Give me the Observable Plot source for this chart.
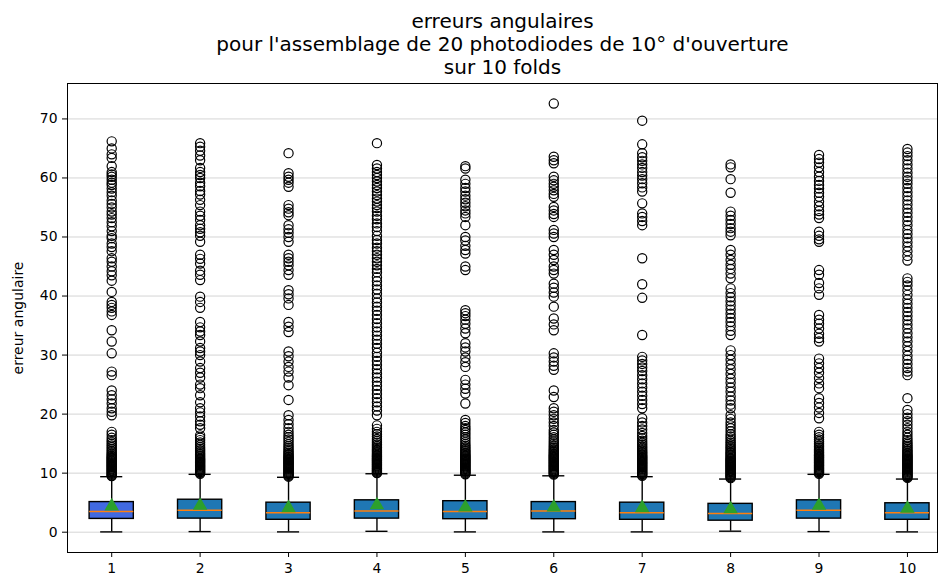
<!DOCTYPE html>
<html>
<head>
<meta charset="utf-8">
<script src="https://cdn.jsdelivr.net/npm/d3@7"></script>
<script src="https://cdn.jsdelivr.net/npm/@observablehq/plot@0.6"></script>
<style>
  html, body { margin: 0; padding: 0; background: #fff; }
  #chart svg { display: block; }
</style>
</head>
<body>
<div id="chart"></div>
<script>
// ---- data ----
const titleLines = ["erreurs angulaires", "pour l'assemblage de 20 photodiodes de 10° d'ouverture", "sur 10 folds"];
const yLabel = "erreur angulaire";
const folds = [1, 2, 3, 4, 5, 6, 7, 8, 9, 10];
const whiskerLow = [0.05, 0.1, 0.05, 0.15, 0.05, 0.05, 0.05, 0.17, 0.1, 0.05];
const q1 = [2.25, 2.3, 2.1, 2.3, 2.2, 2.2, 2.1, 1.95, 2.3, 2.1];
const medians = [3.5, 3.7, 3.3, 3.6, 3.5, 3.6, 3.3, 3.15, 3.7, 3.3];
const q3 = [5.1, 5.5, 5.0, 5.4, 5.25, 5.1, 5.0, 4.8, 5.4, 4.9];
const whiskerHigh = [9.4, 9.8, 9.3, 9.9, 9.65, 9.55, 9.4, 9.0, 9.8, 9.0];
const means = [4.4, 4.5, 4.1, 4.6, 4.2, 4.2, 4.1, 3.9, 4.5, 4.0];
const boxColors = ["#4169e1", "#1f77b4", "#1f77b4", "#1f77b4", "#1f77b4", "#1f77b4", "#1f77b4", "#1f77b4", "#1f77b4", "#1f77b4"];
const outliers1 = [66.2, 65, 64, 63.4, 62, 61, 60.6, 60.2, 59.7, 59.2, 58.8, 58.2, 57.6, 57, 56.2, 55.6, 55, 54.3, 53.8, 53.2, 52.5, 51.8, 51, 50.2, 49.8, 48.9, 48.3, 47.6, 46.4, 45.8, 45, 44.2, 43.5, 42.6, 40.7, 39, 38.5, 38, 37.4, 36.8, 34.2, 32.3, 30.3, 27.2, 26.6, 24, 23.2, 22.5, 21.8, 21, 20.4, 19.8, 17, 16.5, 16, 15.6, 15.3, 15, 14.7, 14.4, 14.1, 13.8, 13.55, 13.3, 13.1, 12.9, 12.75, 12.6, 12.45, 12.3, 12.15, 12, 11.85, 11.7, 11.55, 11.4, 11.25, 11.1, 10.95, 10.8, 10.65, 10.5, 10.35, 10.2, 10.05, 9.9, 9.75, 9.6, 9.5];
const outliers2 = [65.9, 65.3, 64.6, 63.8, 63, 61.7, 61, 60.5, 60, 59.2, 58.6, 57.8, 57.2, 56.3, 55.4, 54.3, 53.6, 52.9, 52, 51.4, 50.8, 50.2, 49.2, 47, 46.3, 45.5, 44.3, 43.6, 42.7, 39.9, 39, 38, 35.6, 34.7, 34, 33.4, 32.3, 31.2, 30.6, 30, 28.9, 27.8, 27, 26.2, 25, 24.4, 23.2, 22, 21, 20.3, 19.6, 18.8, 18.2, 17.6, 16.4, 16, 15.6, 15.2, 14.8, 14.45, 14.15, 13.9, 13.65, 13.4, 13.2, 13, 12.8, 12.6, 12.45, 12.3, 12.15, 12, 11.85, 11.7, 11.55, 11.4, 11.25, 11.1, 10.95, 10.8, 10.65, 10.5, 10.35, 10.2, 10.05, 9.9];
const outliers3 = [64.2, 60.8, 60.2, 59.7, 59.2, 58.5, 55.4, 54.8, 54.2, 53.7, 52, 51.3, 50.7, 50, 49.2, 47, 46.4, 45.8, 45.2, 44.4, 43.6, 41, 40.3, 39.6, 38.5, 35.6, 34.8, 33.9, 30.6, 29.8, 28.9, 28, 27.2, 26.2, 24.9, 22.4, 19.8, 19, 18.3, 17.6, 17, 16.5, 16.1, 15.7, 15.3, 14.9, 14.55, 14.25, 13.95, 13.7, 13.45, 13.25, 13.05, 12.85, 12.7, 12.55, 12.4, 12.25, 12.1, 11.95, 11.8, 11.65, 11.5, 11.35, 11.2, 11.05, 10.9, 10.75, 10.6, 10.45, 10.3, 10.15, 10, 9.85, 9.7, 9.55, 9.4];
const outliers4 = [65.9, 62.2, 61.6, 61, 60.5, 60, 59.4, 58.8, 58.3, 57.7, 57.1, 56.5, 56, 55.4, 54.9, 54.3, 53.6, 53, 52.3, 51.7, 51, 50.2, 49.5, 48.9, 48.2, 47.6, 47, 46.4, 45.8, 45.2, 44.6, 44, 43.2, 42.5, 41.8, 41.1, 40.4, 39.6, 38.9, 38.2, 37.5, 36.8, 36.1, 35.4, 34.7, 34, 33.3, 32.6, 31.9, 31.2, 30.4, 29.7, 29, 28.3, 27.6, 26.9, 26.2, 25.5, 24.8, 24.1, 23.4, 22.7, 22, 21.3, 20.6, 19.8, 18.1, 17.5, 17, 16.6, 16.2, 15.8, 15.45, 15.15, 14.85, 14.6, 14.35, 14.1, 13.9, 13.7, 13.5, 13.3, 13.1, 12.95, 12.8, 12.65, 12.5, 12.35, 12.2, 12.05, 11.9, 11.75, 11.6, 11.45, 11.3, 11.15, 11, 10.85, 10.7, 10.55, 10.4, 10.25, 10.1, 10];
const outliers5 = [62, 61.6, 59.7, 59, 58.3, 57.7, 57, 56.4, 55.8, 55.2, 54.5, 54, 53.4, 52, 50, 49.4, 48.5, 47.8, 47.2, 45, 44.4, 37.6, 37.1, 36.6, 36, 35.3, 34.5, 33.7, 32, 31.3, 30.6, 29.6, 28.8, 28, 25.8, 25, 24.3, 23.5, 21.8, 19, 18.5, 18, 17.6, 17.3, 16.9, 16.5, 16.1, 15.7, 15.3, 14.95, 14.65, 14.4, 14.15, 13.9, 13.7, 13.5, 13.3, 13.1, 12.95, 12.8, 12.65, 12.5, 12.35, 12.2, 12.05, 11.9, 11.75, 11.6, 11.45, 11.3, 11.15, 11, 10.85, 10.7, 10.55, 10.4, 10.25, 10.1, 9.95, 9.8];
const outliers6 = [72.6, 63.6, 63, 62.5, 60.2, 59.6, 59, 58.5, 57.9, 57.3, 56.8, 55.1, 54.5, 53.9, 53.4, 51.2, 50.6, 50, 47.8, 47, 46.1, 45, 44.4, 43.8, 42.1, 41.4, 40.6, 39.9, 38.2, 36.2, 35.2, 34.2, 30.3, 29.6, 28.9, 28.2, 27.5, 24, 22.9, 21, 20.4, 19.8, 19.2, 18.6, 18, 17.3, 16.9, 16.5, 16.1, 15.7, 15.35, 15.05, 14.75, 14.5, 14.25, 14, 13.8, 13.6, 13.4, 13.2, 13.05, 12.9, 12.75, 12.6, 12.45, 12.3, 12.15, 12, 11.85, 11.7, 11.55, 11.4, 11.25, 11.1, 10.95, 10.8, 10.65, 10.5, 10.35, 10.2, 10.05, 9.9, 9.75];
const outliers7 = [69.7, 65.7, 64.2, 63.5, 62.9, 62.3, 61.7, 61, 60.4, 59.8, 59.1, 58.4, 57.7, 55.7, 54, 53.4, 52.7, 52, 46.4, 42, 39.7, 33.4, 29.7, 29.1, 28.5, 27.9, 27.3, 26.6, 25.9, 25.2, 24.5, 23.8, 23.1, 22.4, 21.7, 21, 19.3, 18.6, 18, 17.4, 16.8, 16.3, 15.9, 15.5, 15.15, 14.85, 14.55, 14.3, 14.05, 13.8, 13.6, 13.4, 13.2, 13, 12.85, 12.7, 12.55, 12.4, 12.25, 12.1, 11.95, 11.8, 11.65, 11.5, 11.35, 11.2, 11.05, 10.9, 10.75, 10.6, 10.45, 10.3, 10.15, 10, 9.85, 9.7, 9.55];
const outliers8 = [62.3, 61.8, 59.8, 57.5, 54.3, 53.6, 52.9, 52.2, 51.5, 50.9, 50.3, 47.8, 47, 46.1, 45.3, 44.6, 43.8, 43, 41.3, 40.5, 39.8, 39.1, 38.4, 37.7, 37, 36.3, 35.6, 34.9, 34.1, 33.4, 30.8, 30, 29.2, 28.4, 27.6, 26.8, 26, 25.3, 24.5, 23.8, 23, 22.3, 21.6, 21, 19.8, 19.2, 18.6, 18.1, 17.6, 17.1, 16.6, 16.2, 15.85, 15.5, 15.2, 14.9, 14.6, 14.35, 14.1, 13.85, 13.6, 13.4, 13.2, 13, 12.8, 12.6, 12.45, 12.3, 12.15, 12, 11.85, 11.7, 11.55, 11.4, 11.25, 11.1, 10.95, 10.8, 10.65, 10.5, 10.35, 10.2, 10.05, 9.9, 9.75, 9.6, 9.45, 9.3, 9.15];
const outliers9 = [63.9, 63.2, 62.6, 61.8, 61, 60.2, 59.5, 58.8, 58.2, 57.5, 56.8, 56, 55.2, 54.4, 53.8, 53.2, 50.9, 50.2, 49.6, 49.2, 44.4, 43.6, 42.2, 41.3, 40.2, 36.8, 36, 35.3, 34.5, 33.6, 32.9, 32.3, 29.4, 28.6, 27.8, 27, 26.1, 25.2, 24.4, 22.7, 21.9, 21.1, 20.2, 19.3, 17, 16.5, 16.1, 15.7, 15.35, 15.05, 14.75, 14.5, 14.25, 14, 13.8, 13.6, 13.4, 13.2, 13.05, 12.9, 12.75, 12.6, 12.45, 12.3, 12.15, 12, 11.85, 11.7, 11.55, 11.4, 11.25, 11.1, 10.95, 10.8, 10.65, 10.5, 10.35, 10.2, 10.05, 9.9];
const outliers10 = [64.9, 64.3, 63.7, 63, 62.3, 61.6, 60.9, 60.2, 59.6, 59, 58.3, 57.6, 56.9, 56.2, 55.5, 54.8, 54.1, 53.4, 52.7, 52, 51.2, 50.5, 49.8, 49.1, 48.4, 47.6, 46.8, 46, 43, 42.4, 41.8, 41, 40.2, 39.4, 38.7, 38, 37.3, 36.6, 35.9, 35.2, 34.5, 33.7, 33, 32.3, 31.5, 30.7, 29.9, 29.2, 28.5, 27.8, 27.2, 26.6, 22.7, 20.7, 20, 19.4, 18.8, 18.2, 17.6, 17, 16.5, 16, 15.6, 15.25, 14.95, 14.65, 14.4, 14.15, 13.9, 13.7, 13.5, 13.3, 13.1, 12.95, 12.8, 12.65, 12.5, 12.35, 12.2, 12.05, 11.9, 11.75, 11.6, 11.45, 11.3, 11.15, 11, 10.85, 10.7, 10.55, 10.4, 10.25, 10.1, 9.95, 9.8, 9.65, 9.5, 9.35, 9.2];
const yTicks = [0, 10, 20, 30, 40, 50, 60, 70];

// ---- tables built from the arrays ----
const outlierLists = [outliers1, outliers2, outliers3, outliers4, outliers5, outliers6, outliers7, outliers8, outliers9, outliers10];
const boxes = folds.map((f, i) => ({
  fold: f, lo: whiskerLow[i], q1: q1[i], med: medians[i], q3: q3[i], hi: whiskerHigh[i], mean: means[i], color: boxColors[i]
}));
const fliers = folds.flatMap((f, i) => outlierLists[i].map(v => ({fold: f, value: v})));

const BOX_HALF = 0.25, CAP_HALF = 0.125;
const font = "DejaVu Sans, sans-serif";

const plot = Plot.plot({
  width: 939,
  height: 579,
  marginLeft: 67,
  marginRight: 2,
  marginTop: 83,
  marginBottom: 27,
  style: {fontFamily: font, fontSize: "13.9px", color: "#000", background: "#fff", overflow: "visible"},
  x: {type: "linear", domain: [0.5, 10.34]},
  y: {domain: [-3.44, 76.0]},
  marks: [
    Plot.gridY(yTicks, {stroke: "#b0b0b0", strokeOpacity: 0.55, strokeWidth: 1}),
    Plot.axisX(folds, {tickSize: 5, tickPadding: 6, label: null, tickFormat: d => String(d), fontSize: "13.9px", fill: "#000", stroke: "#000"}),
    Plot.axisY(yTicks, {tickSize: 5, tickPadding: 5, label: null, fontSize: "13.9px", fill: "#000", stroke: "#000"}),
    Plot.text([yLabel], {frameAnchor: "left", dx: -49, rotate: -90, text: d => d, fontSize: 14, fill: "#000", textAnchor: "middle", lineAnchor: "middle"}),
    // whiskers
    Plot.ruleX(boxes, {x: "fold", y1: "lo", y2: "q1", stroke: "#000", strokeWidth: 1.4}),
    Plot.ruleX(boxes, {x: "fold", y1: "q3", y2: "hi", stroke: "#000", strokeWidth: 1.4}),
    // caps
    Plot.ruleY(boxes, {y: "lo", x1: d => d.fold - CAP_HALF, x2: d => d.fold + CAP_HALF, stroke: "#000", strokeWidth: 1.4}),
    Plot.ruleY(boxes, {y: "hi", x1: d => d.fold - CAP_HALF, x2: d => d.fold + CAP_HALF, stroke: "#000", strokeWidth: 1.4}),
    // boxes
    Plot.rect(boxes, {x1: d => d.fold - BOX_HALF, x2: d => d.fold + BOX_HALF, y1: "q1", y2: "q3", fill: "color", stroke: "#000", strokeWidth: 1.4}),
    // medians
    Plot.ruleY(boxes, {y: "med", x1: d => d.fold - BOX_HALF, x2: d => d.fold + BOX_HALF, stroke: "#ff7f0e", strokeWidth: 1.5}),
    // fliers
    Plot.dot(fliers, {x: "fold", y: "value", r: 4.6, stroke: "#000", strokeWidth: 1.2, fill: "none"}),
    // means
    Plot.dot(boxes, {x: "fold", y: "mean", symbol: "triangle", r: 5.4, fill: "#2ca02c", stroke: "none"}),
    Plot.frame({stroke: "#000", strokeWidth: 1}),
    // title
    Plot.text([titleLines[0]], {frameAnchor: "top", dy: -62, lineAnchor: "middle", text: d => d, fontSize: 20, fill: "#000"}),
    Plot.text([titleLines[1]], {frameAnchor: "top", dy: -39, lineAnchor: "middle", text: d => d, fontSize: 20, fill: "#000"}),
    Plot.text([titleLines[2]], {frameAnchor: "top", dy: -16, lineAnchor: "middle", text: d => d, fontSize: 20, fill: "#000"})
  ]
});
document.getElementById("chart").appendChild(plot);
</script>
</body>
</html>
